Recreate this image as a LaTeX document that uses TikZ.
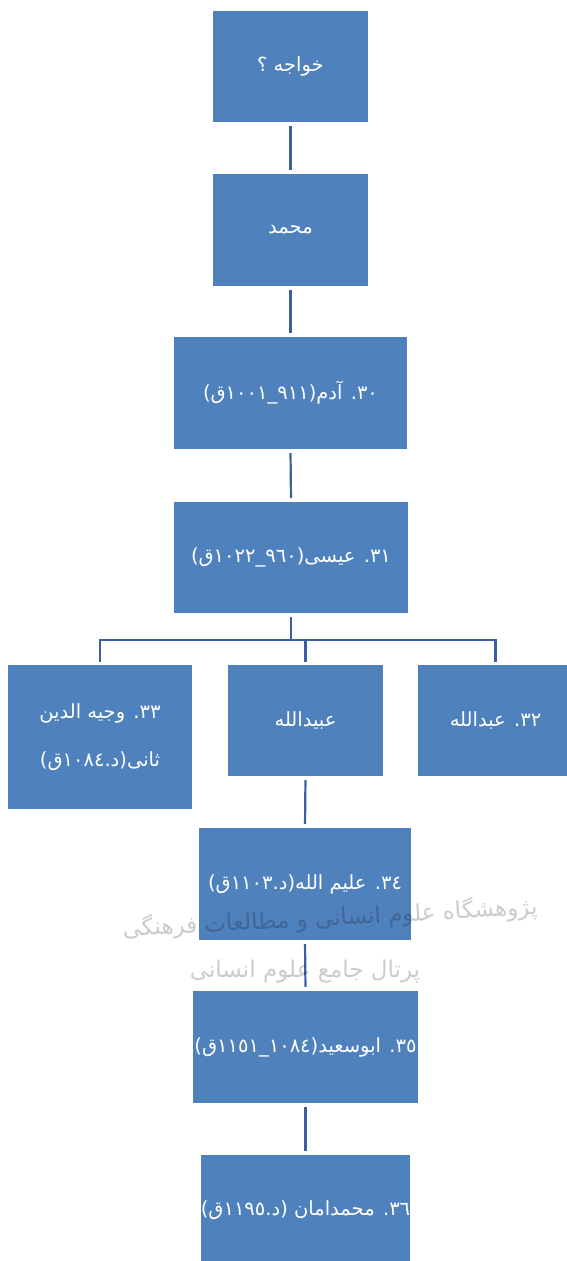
\documentclass[tikz,border=0pt]{standalone}
\usepackage{fontspec}
\newfontfamily\arabicfont[Script=Arabic]{DejaVu Sans}
\TeXXeTstate=1
\definecolor{boxblue}{RGB}{79,129,189}
\definecolor{lineblue}{RGB}{58,96,160}
\tikzset{
  orgbox/.style={rectangle, fill=boxblue, draw=none, text=white, inner sep=0pt,
    font=\arabicfont\fontsize{19.5}{48}\selectfont, align=center},
  conn/.style={draw=lineblue, line width=2.2pt},
  gap/.style={shorten <=4pt, shorten >=4pt},
  wmark/.style={text=black, opacity=0.2, font=\arabicfont\fontsize{23}{26}\selectfont, inner sep=0pt}
}
\begin{document}
\begin{tikzpicture}[x=1pt,y=-1pt]
\useasboundingbox (0,0) rectangle (566,1261);
\fill[white] (0,0) rectangle (566,1261);
% boxes
\node[orgbox, minimum width=155pt, minimum height=111pt] (b1) at (290.5,66.5) {\beginR خواجه ؟\endR};
\node[orgbox, minimum width=155pt, minimum height=112pt] (b2) at (290.5,230) {\beginR محمد\endR};
\node[orgbox, minimum width=233pt, minimum height=112pt] (b3) at (290.5,393) {\beginR ٣٠. آدم(٩١١\_١٠٠١ق)\endR};
\node[orgbox, minimum width=234pt, minimum height=111pt] (b4) at (291,557.5) {\beginR ٣١. عیسی(٩٦٠\_١٠٢٢ق)\endR};
\node[orgbox, minimum width=184pt, minimum height=144pt] (b5l) at (100,737) {\beginR ٣٣. وجیه الدین\endR\\\beginR ثانی(د.١٠٨٤ق)\endR};
\node[orgbox, minimum width=155pt, minimum height=111pt] (b5m) at (305.5,720.5) {\beginR عبیدالله\endR};
\node[orgbox, minimum width=155pt, minimum height=111pt] (b5r) at (495.5,720.5) {\beginR ٣٢. عبدالله\endR};
\node[orgbox, minimum width=212pt, minimum height=112pt] (b6) at (305,884) {\beginR ٣٤. علیم الله(د.١١٠٣ق)\endR};
\node[orgbox, minimum width=225pt, minimum height=112pt] (b7) at (305.5,1047) {\beginR ٣٥. ابوسعید(١٠٨٤\_١١٥١ق)\endR};
\node[orgbox, minimum width=209pt, minimum height=111pt] (b8) at (305.5,1210.5) {\beginR ٣٦. محمدامان (د.١١٩٥ق)\endR};
% junction coordinates
\coordinate (j) at (291,640);
\coordinate (jl) at (100,640);
\coordinate (jm) at (305.5,640);
\coordinate (jr) at (495.5,640);
% connectors
\draw[conn, gap] (b1.south) -- (b2.north);
\draw[conn, gap] (b2.south) -- (b3.north);
\draw[conn, gap] (b3.south) -- (b4.north);
\draw[conn, shorten <=4pt] (b4.south) -- (j);
\draw[conn, line cap=rect] (jl) -- (jr);
\draw[conn, shorten >=3pt] (jl) -- (b5l.north);
\draw[conn, shorten >=3pt] (jm) -- (b5m.north);
\draw[conn, shorten >=3pt] (jr) -- (b5r.north);
\draw[conn, gap] (b5m.south) -- (b6.north);
\draw[conn, gap] (b6.south) -- (b7.north);
\draw[conn, gap] (b7.south) -- (b8.north);
% watermark
\node[wmark, rotate=3] (wm1) at (330,918) {\beginR پژوهشگاه علوم انسانی و مطالعات فرهنگی\endR};
\node[wmark] (wm2) at (305,972) {\beginR پرتال جامع علوم انسانی\endR};
\end{tikzpicture}
\end{document}
